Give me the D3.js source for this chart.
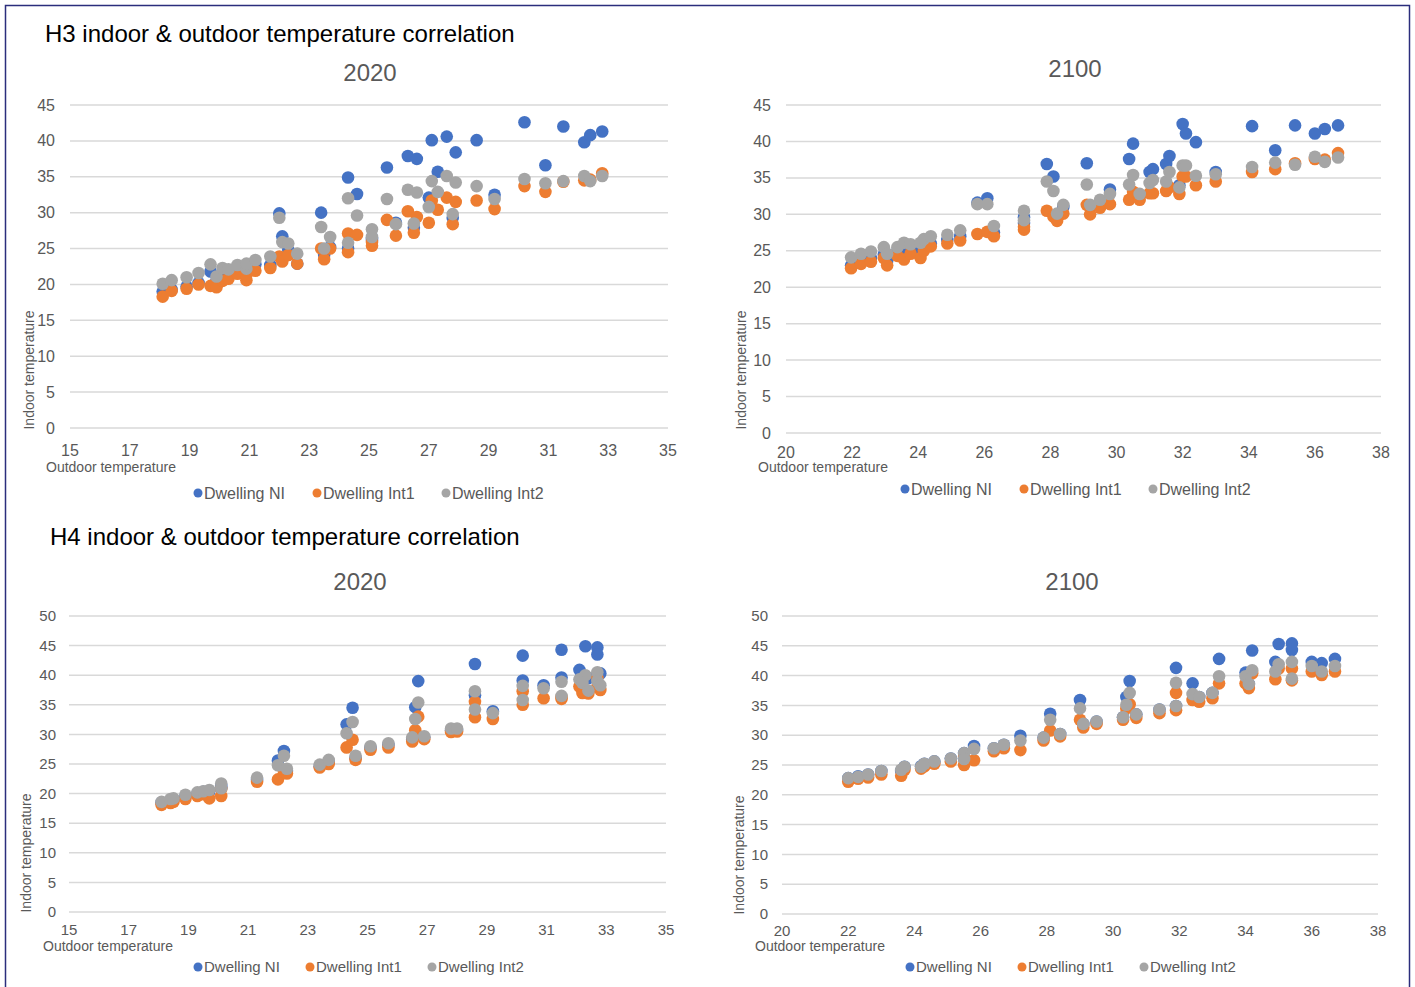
<!DOCTYPE html>
<html>
<head>
<meta charset="utf-8">
<title>Indoor & outdoor temperature correlation</title>
<script src="https://d3js.org/d3.v7.min.js"></script>
<style>
  body { margin: 0; background: #fff; }
  svg text { font-family: "Liberation Sans", Arial, sans-serif; }
</style>
</head>
<body>
<svg id="chart" width="1415" height="987"></svg>
<script>
// series names + colours (Excel defaults)
const seriesNames = ["Dwelling NI", "Dwelling Int1", "Dwelling Int2"];
const seriesColors = ["#4472C4", "#ED7D31", "#A5A5A5"];

// ---- H3, 2020 ----
const h3_2020_out  = [18.1,18.4,18.9,19.3,19.7,19.9,20.1,20.3,20.6,20.9,20.9,21.2,21.7,22.0,22.1,22.3,22.6,23.4,23.5,23.7,24.3,24.3,24.6,25.1,25.1,25.6,25.9,26.3,26.6,26.5,27.0,27.1,27.3,27.6,27.8,27.9,28.6,29.2,30.2,30.9,31.5,32.2,32.4,32.8];
const h3_2020_ni   = [19.0,19.3,19.7,20.2,21.8,20.5,21.5,21.6,22.0,21.9,22.3,22.8,22.7,29.9,26.7,24.8,22.9,30.0,24.1,25.2,34.9,25.0,32.6,26.5,26.2,36.3,28.6,37.9,37.5,27.9,32.1,40.1,35.7,40.6,29.3,38.4,40.1,32.5,42.6,36.6,42.0,39.8,40.8,41.3];
const h3_2020_int1 = [18.3,19.1,19.4,20.0,19.8,19.6,20.5,20.8,21.5,20.6,21.3,21.9,22.3,23.9,23.2,24.1,22.9,25.0,23.5,25.0,27.1,24.5,26.9,25.4,25.9,29.0,26.8,30.2,29.4,27.2,28.6,31.7,30.4,32.1,28.4,31.5,31.7,30.5,33.7,32.9,34.3,34.5,34.6,35.5];
const h3_2020_int2 = [20.1,20.6,21.0,21.6,22.8,21.1,22.3,22.1,22.7,22.2,22.9,23.4,23.9,29.3,25.9,25.7,24.3,28.0,25.0,26.6,32.0,25.8,29.6,27.7,26.6,31.9,28.4,33.2,32.8,28.5,30.8,34.4,32.9,35.1,29.8,34.2,33.7,31.9,34.7,34.1,34.4,35.1,34.4,35.1];

// ---- H3, 2100 ----
const h3_2100_out  = [21.97,22.27,22.57,22.96,23.06,23.37,23.57,23.77,24.07,24.17,24.38,24.88,25.27,25.79,26.09,26.29,27.2,27.2,27.89,28.09,28.2,28.39,29.1,29.2,29.5,29.8,30.38,30.5,30.7,31.0,31.1,31.5,31.6,31.9,32.0,32.1,32.4,33.0,34.1,34.8,35.4,36.0,36.3,36.7];
const h3_2100_ni   = [23.0,23.5,24.0,24.5,23.6,25.0,25.0,25.5,25.1,26.0,26.0,26.5,27.0,31.6,32.2,27.5,29.6,28.8,36.9,35.2,30.0,31.0,37.0,31.0,31.5,33.4,37.6,39.7,32.5,35.8,36.2,36.9,38.0,34.0,42.4,41.1,39.9,35.8,42.1,38.8,42.2,41.1,41.7,42.2];
const h3_2100_int1 = [22.6,23.2,23.5,24.0,23.0,24.3,23.8,24.6,24.0,25.0,25.6,26.0,26.4,27.3,27.6,27.0,27.9,28.3,30.5,29.7,29.1,30.1,31.3,30.0,30.9,31.4,32.0,33.1,32.0,32.9,32.9,33.2,33.7,32.8,35.2,35.2,34.0,34.5,35.8,36.2,37.0,37.6,37.5,38.4];
const h3_2100_int2 = [24.1,24.6,24.9,25.5,24.6,25.5,26.1,25.9,26.1,26.6,27.0,27.2,27.8,31.4,31.4,28.4,30.5,29.2,34.5,33.2,30.1,31.3,34.1,31.3,32.0,32.8,34.1,35.4,32.8,34.3,34.7,34.5,35.8,33.7,36.7,36.7,35.3,35.5,36.5,37.1,36.8,37.9,37.2,37.8];

// ---- H4, 2020 ----
const h4_2020_out  = [18.1,18.4,18.5,18.9,19.3,19.5,19.7,20.1,20.1,21.3,22.0,22.2,22.3,23.4,23.7,24.3,24.5,24.6,25.1,25.7,26.5,26.6,26.7,26.9,27.8,28.0,28.6,28.6,29.2,30.2,30.2,30.9,31.5,31.5,32.1,32.3,32.2,32.4,32.7,32.7,32.8];
const h4_2020_ni   = [18.5,18.8,19.0,19.5,20.0,20.3,20.4,21.0,21.3,22.3,25.6,27.2,23.8,24.6,25.4,31.7,34.5,26.0,27.7,28.2,29.2,34.6,39.0,29.5,30.7,30.8,41.9,36.6,33.9,43.3,39.1,38.3,44.3,39.6,40.9,44.9,39.0,39.5,44.7,43.5,40.3];
const h4_2020_int1 = [18.1,18.4,18.6,19.1,19.6,19.9,19.2,19.6,20.8,22.0,22.4,23.7,23.4,24.4,25.0,27.8,29.1,25.7,27.4,27.8,28.8,30.7,33.0,29.2,30.4,30.5,35.5,32.9,32.6,37.3,35.0,36.1,36.0,36.3,38.1,37.5,37.0,36.9,39.6,38.0,37.5];
const h4_2020_int2 = [18.6,19.1,19.2,19.8,20.2,20.4,20.6,20.9,21.7,22.7,24.8,26.4,24.2,24.9,25.7,30.2,32.1,26.4,28.0,28.5,29.5,32.6,35.4,29.7,31.0,31.0,37.3,34.2,33.6,38.2,35.8,37.8,38.9,36.5,39.3,40.0,38.7,37.4,40.5,39.0,38.3];

// ---- H4, 2100 ----
const h4_2100_out  = [22.0,22.3,22.6,23.0,23.6,23.7,24.2,24.3,24.6,25.1,25.5,25.5,25.8,26.4,26.7,27.2,27.9,28.1,28.4,29.0,29.1,29.5,30.3,30.4,30.5,30.7,31.4,31.9,31.9,32.4,32.6,33.0,33.2,34.0,34.1,34.2,34.9,35.0,35.4,35.4,36.0,36.3,36.7];
const h4_2100_ni   = [22.8,23.1,23.4,24.0,24.0,24.7,24.8,25.2,25.6,26.1,27.0,26.0,28.2,27.8,28.4,29.9,29.6,33.6,30.2,35.9,31.9,32.3,33.0,36.4,39.1,33.5,34.3,41.3,34.9,38.7,36.4,37.1,42.8,40.5,38.6,44.2,42.3,45.3,45.4,44.3,42.3,42.1,42.8];
const h4_2100_int1 = [22.2,22.7,22.9,23.4,23.2,24.2,24.4,24.8,25.2,25.6,26.4,25.0,25.8,27.3,27.8,27.5,29.1,30.8,29.8,32.6,31.3,31.9,32.6,34.5,35.2,32.9,33.7,37.1,34.2,35.9,35.6,36.2,38.7,38.7,37.9,40.4,39.4,41.2,41.2,39.2,40.7,40.1,40.7];
const h4_2100_int2 = [22.8,23.0,23.4,24.0,24.2,24.7,24.7,25.2,25.6,26.1,27.0,26.0,27.7,27.8,28.4,29.1,29.6,32.6,30.2,34.5,31.9,32.3,33.0,35.1,37.1,33.5,34.3,38.8,34.9,36.9,36.4,37.1,39.9,39.9,38.6,40.9,40.7,41.9,42.3,39.5,41.6,40.7,41.6];

// axis ticks
const xTicks2020 = d3.range(15, 36, 2);
const xTicks2100 = d3.range(20, 39, 2);
const yTicksH3 = d3.range(0, 46, 5);
const yTicksH4 = d3.range(0, 51, 5);

const svg = d3.select("#chart");

// outer frame
svg.append("rect")
  .attr("x", 5.5).attr("y", 5.5)
  .attr("width", 1404).attr("height", 990)
  .attr("fill", "none").attr("stroke", "#2b2d7c").attr("stroke-width", 1.5);

// section titles
svg.append("text").attr("x", 45).attr("y", 42)
  .attr("font-size", 24).attr("fill", "#000")
  .text("H3 indoor & outdoor temperature correlation");
svg.append("text").attr("x", 50).attr("y", 545)
  .attr("font-size", 24).attr("fill", "#000")
  .text("H4 indoor & outdoor temperature correlation");

const panels = [
  { title: "2020", titleX: 370, titleY: 81, out: h3_2020_out, vals: [h3_2020_ni, h3_2020_int1, h3_2020_int2],
    xDom: [15, 35], xTicks: xTicks2020, yDom: [0, 45], yTicks: yTicksH3,
    left: 70, right: 668, top: 105, bottom: 428, yLabX: 55, xLabY: 456,
    indoorX: 34, indoorY: 370, outdoorX: 46, outdoorY: 472,
    legY: 493, legX: [198, 317, 446], fs: 16 },
  { title: "2100", titleX: 1075, titleY: 77, out: h3_2100_out, vals: [h3_2100_ni, h3_2100_int1, h3_2100_int2],
    xDom: [20, 38], xTicks: xTicks2100, yDom: [0, 45], yTicks: yTicksH3,
    left: 786, right: 1381, top: 105, bottom: 433, yLabX: 771, xLabY: 458,
    indoorX: 746, indoorY: 370, outdoorX: 758, outdoorY: 472,
    legY: 489, legX: [905, 1024, 1153], fs: 16 },
  { title: "2020", titleX: 360, titleY: 590, out: h4_2020_out, vals: [h4_2020_ni, h4_2020_int1, h4_2020_int2],
    xDom: [15, 35], xTicks: xTicks2020, yDom: [0, 50], yTicks: yTicksH4,
    left: 69, right: 666, top: 616, bottom: 912, yLabX: 56, xLabY: 935,
    indoorX: 31, indoorY: 853, outdoorX: 43, outdoorY: 951,
    legY: 967, legX: [198, 310, 432], fs: 15 },
  { title: "2100", titleX: 1072, titleY: 590, out: h4_2100_out, vals: [h4_2100_ni, h4_2100_int1, h4_2100_int2],
    xDom: [20, 38], xTicks: xTicks2100, yDom: [0, 50], yTicks: yTicksH4,
    left: 782, right: 1378, top: 616, bottom: 914, yLabX: 768, xLabY: 936,
    indoorX: 744, indoorY: 855, outdoorX: 755, outdoorY: 951,
    legY: 967, legX: [910, 1022, 1144], fs: 15 }
];

panels.forEach(p => {
  const g = svg.append("g");
  const x = d3.scaleLinear().domain(p.xDom).range([p.left, p.right]);
  const y = d3.scaleLinear().domain(p.yDom).range([p.bottom, p.top]);

  // chart title
  g.append("text").attr("x", p.titleX).attr("y", p.titleY)
    .attr("text-anchor", "middle").attr("font-size", 24).attr("fill", "#595959")
    .text(p.title);

  // gridlines
  g.selectAll(".grid").data(p.yTicks).join("line")
    .attr("x1", p.left).attr("x2", p.right)
    .attr("y1", d => y(d)).attr("y2", d => y(d))
    .attr("stroke", "#d9d9d9").attr("stroke-width", 1.5);

  // y tick labels
  g.selectAll(".ylab").data(p.yTicks).join("text")
    .attr("x", p.yLabX).attr("y", d => y(d)).attr("dy", "0.35em")
    .attr("text-anchor", "end").attr("font-size", p.fs).attr("fill", "#595959")
    .text(d => d);

  // x tick labels
  g.selectAll(".xlab").data(p.xTicks).join("text")
    .attr("x", d => x(d)).attr("y", p.xLabY)
    .attr("text-anchor", "middle").attr("font-size", p.fs).attr("fill", "#595959")
    .text(d => d);

  // axis titles
  g.append("text")
    .attr("transform", `translate(${p.indoorX},${p.indoorY}) rotate(-90)`)
    .attr("text-anchor", "middle").attr("font-size", 14).attr("fill", "#595959")
    .text("Indoor  temperature");
  g.append("text").attr("x", p.outdoorX).attr("y", p.outdoorY)
    .attr("font-size", 14).attr("fill", "#595959")
    .text("Outdoor temperature");

  // points: NI first, then Int1, Int2 on top
  p.vals.forEach((vals, si) => {
    g.append("g").selectAll("circle")
      .data(vals.map((v, i) => [p.out[i], v]))
      .join("circle")
      .attr("cx", d => x(d[0])).attr("cy", d => y(d[1]))
      .attr("r", 6.3).attr("fill", seriesColors[si]);
  });

  // legend
  seriesNames.forEach((name, si) => {
    g.append("circle").attr("cx", p.legX[si]).attr("cy", p.legY)
      .attr("r", 4.5).attr("fill", seriesColors[si]);
    g.append("text").attr("x", p.legX[si] + 6).attr("y", p.legY).attr("dy", "0.35em")
      .attr("font-size", p.fs).attr("fill", "#595959").text(name);
  });
});
</script>
</body>
</html>
